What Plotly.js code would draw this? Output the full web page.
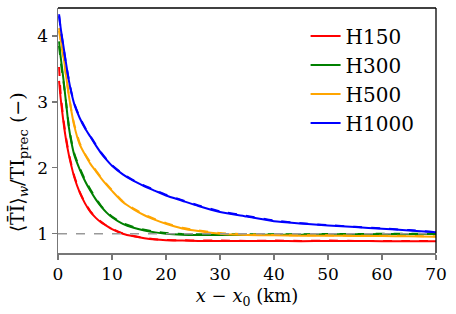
<!DOCTYPE html>
<html>
<head>
<meta charset="utf-8">
<script src="https://cdn.plot.ly/plotly-3.0.1.min.js"></script>
<style>html,body{margin:0;padding:0;background:#fff;}</style>
</head>
<body>
<div id="chart" style="width:456px;height:314px;"></div>
<script>
// distance downstream x - x0 (km)
const xKm = [0.2, 0.5, 1, 1.5, 2, 2.5, 3, 4, 5, 6, 7, 8, 9, 10, 12, 14, 16, 18, 20, 23, 26, 30, 35, 40, 45, 50, 55, 60, 65, 70];

const seriesNames = ["H150", "H300", "H500", "H1000"];
const seriesColors = ["#ff0000", "#008000", "#ffa500", "#0000ff"];

// solid curves
const h150 = [3.32, 3.05, 2.70, 2.42, 2.20, 2.02, 1.86, 1.63, 1.46, 1.33, 1.24, 1.17, 1.12, 1.07, 1.00, 0.96, 0.93, 0.91, 0.90, 0.895, 0.89, 0.89, 0.89, 0.89, 0.885, 0.89, 0.89, 0.885, 0.885, 0.885];
const h300 = [3.92, 3.68, 3.35, 2.98, 2.62, 2.38, 2.20, 1.98, 1.80, 1.65, 1.52, 1.41, 1.32, 1.25, 1.15, 1.09, 1.05, 1.02, 1.00, 0.985, 0.98, 0.98, 0.98, 0.985, 0.985, 0.99, 0.99, 0.995, 0.995, 0.995];
const h500 = [4.12, 3.95, 3.70, 3.40, 3.10, 2.85, 2.64, 2.36, 2.20, 2.06, 1.95, 1.84, 1.74, 1.65, 1.48, 1.37, 1.28, 1.21, 1.15, 1.08, 1.04, 1.00, 0.98, 0.975, 0.97, 0.97, 0.965, 0.965, 0.96, 0.955];
const h1000 = [4.33, 4.12, 3.85, 3.58, 3.33, 3.13, 2.97, 2.76, 2.60, 2.47, 2.34, 2.22, 2.12, 2.03, 1.90, 1.80, 1.72, 1.65, 1.58, 1.50, 1.42, 1.33, 1.26, 1.19, 1.155, 1.125, 1.10, 1.075, 1.05, 1.02];

// dashed companion curves
const h150d = [3.53, 3.12, 2.74, 2.45, 2.22, 2.04, 1.88, 1.64, 1.47, 1.34, 1.25, 1.18, 1.12, 1.075, 1.005, 0.965, 0.935, 0.915, 0.905, 0.9, 0.895, 0.895, 0.89, 0.895, 0.89, 0.895, 0.89, 0.89, 0.89, 0.89];
const h300d = [3.85, 3.62, 3.32, 2.99, 2.64, 2.40, 2.22, 2.00, 1.82, 1.67, 1.54, 1.42, 1.33, 1.26, 1.16, 1.10, 1.06, 1.03, 1.01, 0.995, 0.99, 0.99, 0.99, 0.99, 0.99, 0.995, 0.995, 1.0, 1.0, 1.0];
const h500d = [4.08, 3.92, 3.68, 3.39, 3.11, 2.86, 2.66, 2.38, 2.21, 2.08, 1.96, 1.85, 1.75, 1.66, 1.49, 1.38, 1.29, 1.22, 1.16, 1.09, 1.05, 1.01, 0.99, 0.98, 0.975, 0.975, 0.97, 0.97, 0.965, 0.96];
const h1000d = [4.30, 4.10, 3.84, 3.57, 3.34, 3.14, 2.98, 2.77, 2.61, 2.48, 2.35, 2.23, 2.13, 2.04, 1.91, 1.81, 1.73, 1.66, 1.59, 1.51, 1.43, 1.34, 1.27, 1.20, 1.16, 1.13, 1.105, 1.08, 1.055, 1.025];

const xTickVals = [0, 10, 20, 30, 40, 50, 60, 70];
const yTickVals = [1, 2, 3, 4];
const xTitle = "<i>x</i> − <i>x</i><sub>0</sub> (km)";
const yTitle = "⟨T\u0304I\u0304⟩<sub><i>w</i></sub>/TI<sub>prec</sub> (−)";

const solid = [h150, h300, h500, h1000];
const dashed = [h150d, h300d, h500d, h1000d];

const traces = [];
for (let i = 0; i < seriesNames.length; i++) {
  traces.push({
    x: xKm, y: dashed[i], mode: "lines", showlegend: false, hoverinfo: "skip",
    line: {color: seriesColors[i], width: 2, dash: "dash", shape: "spline", smoothing: 0.6}
  });
  traces.push({
    x: xKm, y: solid[i], mode: "lines", name: seriesNames[i],
    line: {color: seriesColors[i], width: 2, shape: "spline", smoothing: 0.6}
  });
}

const font = "DejaVu Serif";
const layout = {
  width: 456, height: 314,
  margin: {l: 58, r: 20, t: 8, b: 61},
  paper_bgcolor: "#fff", plot_bgcolor: "#fff",
  font: {family: font, color: "#000", size: 17},
  showlegend: true,
  legend: {
    x: 0.655, y: 0.965, xanchor: "left", yanchor: "top",
    bgcolor: "rgba(0,0,0,0)", borderwidth: 0,
    font: {family: font, size: 20, color: "#000"},
    traceorder: "normal", itemwidth: 30, tracegroupgap: 0
  },
  xaxis: {
    range: [0, 70], tickvals: xTickVals, ticks: "outside", ticklen: 5, tickwidth: 1.3,
    tickcolor: "#777", showline: true, linecolor: "#777", linewidth: 1.5,
    showgrid: false, zeroline: false,
    tickfont: {family: font, size: 17, color: "#000"},
    title: {text: xTitle, font: {family: font, size: 18, color: "#000"}, standoff: 6}
  },
  yaxis: {
    range: [0.707, 4.425], tickvals: yTickVals, ticks: "outside", ticklen: 5, tickwidth: 1.3,
    tickcolor: "#777", showline: true, linecolor: "#777", linewidth: 1.5,
    showgrid: false, zeroline: false,
    tickfont: {family: font, size: 17, color: "#000"}
  },
  annotations: [
    {xref: "paper", yref: "paper", x: 0, y: 0.37, xanchor: "center", yanchor: "middle",
     xshift: -40, textangle: -90, showarrow: false, text: yTitle,
     font: {family: font, size: 19, color: "#000"}}
  ],
  shapes: [
    {type: "line", xref: "paper", yref: "y", x0: 0, x1: 1, y0: 1, y1: 1,
     line: {color: "#999", width: 1.5, dash: "dash"}, layer: "above"},
    {type: "line", xref: "paper", yref: "paper", x0: 0, x1: 1, y0: 1, y1: 1,
     line: {color: "#000", width: 1.3}},
    {type: "line", xref: "paper", yref: "paper", x0: 1, x1: 1, y0: 0, y1: 1,
     line: {color: "#000", width: 1.3}}
  ]
};

Plotly.newPlot("chart", traces, layout, {displayModeBar: false, staticPlot: true});
</script>
</body>
</html>
